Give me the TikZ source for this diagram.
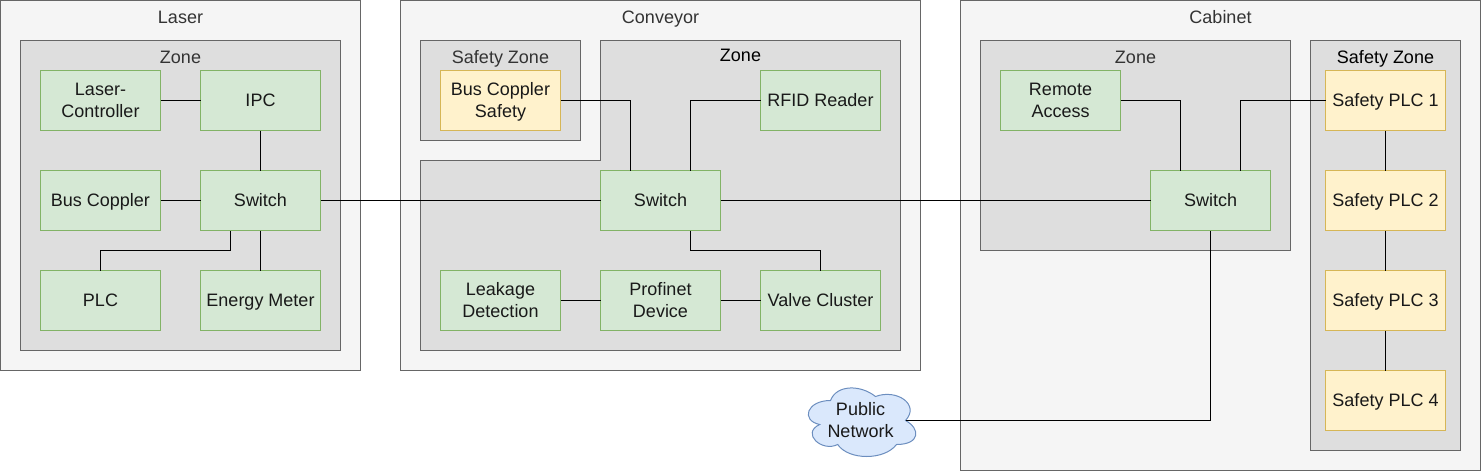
\documentclass[tikz,border=0pt]{standalone}
\usepackage{fontspec}
\setmainfont{Liberation Sans}
\usetikzlibrary{calc}
\definecolor{outerfill}{HTML}{F5F5F5}
\definecolor{boxline}{HTML}{666666}
\definecolor{zonefill}{HTML}{DEDEDE}
\definecolor{titletext}{HTML}{333333}
\definecolor{greenfill}{HTML}{D5E8D4}
\definecolor{greenline}{HTML}{82B366}
\definecolor{yellowfill}{HTML}{FFF2CC}
\definecolor{yellowline}{HTML}{D6B656}
\definecolor{bluefill}{HTML}{DAE8FC}
\definecolor{blueline}{HTML}{6C8EBF}
\tikzset{
  x=0.75pt, y=-0.75pt,
  every node/.style={font=\fontsize{13.5}{16.5}\selectfont, inner sep=0pt, outer sep=0pt, text height=12pt, text depth=3pt},
  twolines/.style={text height=28pt},
  region/.style={draw=boxline, line width=0.75pt, anchor=north west},
  outerbox/.style={region, fill=outerfill},
  zonebox/.style={region, fill=zonefill},
  bx/.style 2 args={minimum width=#1*0.75pt, minimum height=#2*0.75pt},
  device/.style={line width=0.75pt, minimum width=90pt, minimum height=45pt, align=center, text=black!90},
  greendev/.style={device, draw=greenline, fill=greenfill},
  yellowdev/.style={device, draw=yellowline, fill=yellowfill},
  title/.style={text=titletext},
  wire/.style={draw=black, line width=0.75pt},
}
\begin{document}
\begin{tikzpicture}
\useasboundingbox (0,0) rectangle (1482,471);
\begin{scope}[shift={(0.5,0.5)}]
% containers
\node[outerbox, bx={360}{370}] (laser) at (0,0) {};
\node[outerbox, bx={520}{370}] (conveyor) at (400,0) {};
\node[outerbox, bx={520}{470}] (cabinet) at (960,0) {};
\node[zonebox, bx={320}{310}] (laserzone) at (20,40) {};
\node[zonebox, bx={160}{100}] (convsafe) at (420,40) {};
\path[draw=boxline, fill=zonefill, line width=0.75pt] (600,40) -- (900,40) -- (900,350) -- (420,350) -- (420,160) -- (600,160) -- cycle;
\node[zonebox, bx={310}{210}] (cabzone) at (980,40) {};
\node[zonebox, bx={150}{410}] (cabsafe) at (1310,40) {};
% titles
\node[title] (tlaser) at (180,17) {Laser};
\node[title] (tconv) at (660,17) {Conveyor};
\node[title] (tcab) at (1220,17) {Cabinet};
\node[title] (tlz) at (180,57) {Zone};
\node[title] (tcs) at (500,57) {Safety Zone};
\node[text=black] (tcz) at (740,55) {Zone};
\node[title] (tcabz) at (1135,57) {Zone};
\node[text=black] (tcabs) at (1385,57) {Safety Zone};
% cloud
\path[draw=blueline, fill=bluefill, line width=0.75pt]
  (830,400) .. controls (806,400) and (800,420) .. (819.2,424)
  .. controls (800,432.8) and (821.6,452) .. (837.2,444)
  .. controls (848,460) and (884,460) .. (896,444)
  .. controls (920,444) and (920,428) .. (905,420)
  .. controls (920,404) and (896,388) .. (875,396)
  .. controls (860,384) and (836,384) .. (830,400) -- cycle;
\node[twolines, align=center, text=black!90] (pub) at (860,420) {Public\\Network};
\coordinate (pubout) at (905,420);
% devices
\node[greendev, twolines] (lc) at (100,100) {Laser-\\Controller};
\node[greendev] (ipc) at (260,100) {IPC};
\node[greendev] (bus) at (100,200) {Bus Coppler};
\node[greendev] (lsw) at (260,200) {Switch};
\node[greendev] (plc) at (100,300) {PLC};
\node[greendev] (em) at (260,300) {Energy Meter};
\node[yellowdev, twolines] (bcs) at (500,100) {Bus Coppler\\Safety};
\node[greendev] (rfid) at (820,100) {RFID Reader};
\node[greendev] (csw) at (660,200) {Switch};
\node[greendev, twolines] (leak) at (500,300) {Leakage\\Detection};
\node[greendev, twolines] (prof) at (660,300) {Profinet\\Device};
\node[greendev] (valve) at (820,300) {Valve Cluster};
\node[greendev, twolines] (ra) at (1060,100) {Remote\\Access};
\node[greendev] (csw2) at (1210,200) {Switch};
\node[yellowdev] (s1) at (1385,100) {Safety PLC 1};
\node[yellowdev] (s2) at (1385,200) {Safety PLC 2};
\node[yellowdev] (s3) at (1385,300) {Safety PLC 3};
\node[yellowdev] (s4) at (1385,400) {Safety PLC 4};
% connectors
\draw[wire] (lc) -- (ipc);
\draw[wire] (ipc) -- (lsw);
\draw[wire] (bus) -- (lsw);
\draw[wire] (lsw) -- (em);
\draw[wire] (plc.north) -- ++(0,-20) -| ($(lsw.south)+(-30,0)$);
\draw[wire] (lsw) -- (csw);
\draw[wire] (csw) -- (csw2);
\draw[wire] (bcs.east) -| ($(csw.north)+(-30,0)$);
\draw[wire] (rfid.west) -| ($(csw.north)+(30,0)$);
\draw[wire] ($(csw.south)+(30,0)$) -- ++(0,20) -| (valve.north);
\draw[wire] (leak) -- (prof);
\draw[wire] (prof) -- (valve);
\draw[wire] (ra.east) -| ($(csw2.north)+(-30,0)$);
\draw[wire] (s1.west) -| ($(csw2.north)+(30,0)$);
\draw[wire] (pubout) -| (csw2.south);
\draw[wire] (s1) -- (s2);
\draw[wire] (s2) -- (s3);
\draw[wire] (s3) -- (s4);
\end{scope}
\end{tikzpicture}
\end{document}
